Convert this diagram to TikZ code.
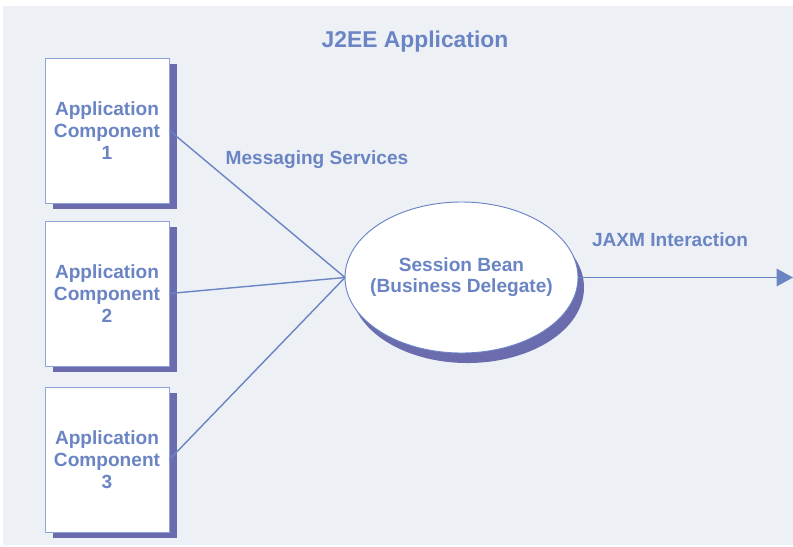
\documentclass[tikz,border=0pt]{standalone}
\usepackage{fontspec}
\setmainfont{Liberation Sans}
\usepackage{tikz}
\usetikzlibrary{arrows.meta,shapes.geometric,shadows}
\definecolor{panelbg}{RGB}{237,240,245}
\definecolor{inkblue}{RGB}{106,132,196}
\definecolor{edgeblue}{RGB}{143,163,219}
\definecolor{shadeblue}{RGB}{106,108,174}

\begin{document}
\begin{tikzpicture}[x=0.03cm, y=-0.03cm,
  compbox/.style={draw=edgeblue, line width=0.8pt, fill=white, minimum width=3.72cm, minimum height=4.35cm,
    inner sep=0pt, align=center, text=inkblue, font=\fontsize{16.3}{19}\selectfont\bfseries,
    drop shadow={shadow xshift=0.25cm, shadow yshift=-0.18cm, fill=shadeblue, opacity=1}},
  beannode/.style={draw=inkblue, line width=0.8pt, fill=white, ellipse, minimum width=6.99cm, minimum height=4.53cm,
    inner xsep=-0.3cm, inner ysep=0pt, outer sep=0pt, align=center, text=inkblue, font=\fontsize{16.3}{18}\selectfont\bfseries,
    drop shadow={shadow xshift=0.18cm, shadow yshift=-0.3cm, fill=shadeblue, opacity=1}},
  lbl/.style={text=inkblue, font=\fontsize{16.3}{19}\selectfont\bfseries},
  link/.style={draw=inkblue, line width=1.2pt}]

% fond et cadre
\useasboundingbox (0,0) rectangle (793,546);
\fill[panelbg] (3,6) rectangle (793,545);

\node[lbl, font=\fontsize{19.5}{22}\selectfont\bfseries] (title) at (415,42) {J2EE Application};

% composants
\node[compbox] (comp1) at (107,130.5) {Application\\Component\\1};
\node[compbox] (comp2) at (107,293.5) {Application\\Component\\2};
\node[compbox] (comp3) at (107,459.5) {Application\\Component\\3};

% session bean
\node[beannode] (bean) at (461.5,277.5) {Session Bean\\(Business Delegate)};
\coordinate (out) at (793,277.5);

\draw[link] (comp1.east) -- (bean.west);
\draw[link] (comp2.east) -- (bean.west);
\draw[link] (comp3.east) -- (bean.west);
\draw[link, -{Triangle[length=14pt,width=15pt]}] (bean.east) -- (out);

\node[lbl] (msg) at (317,160) {Messaging Services};
\node[lbl] (jaxm) at (670,240) {JAXM Interaction};

\end{tikzpicture}
\end{document}
